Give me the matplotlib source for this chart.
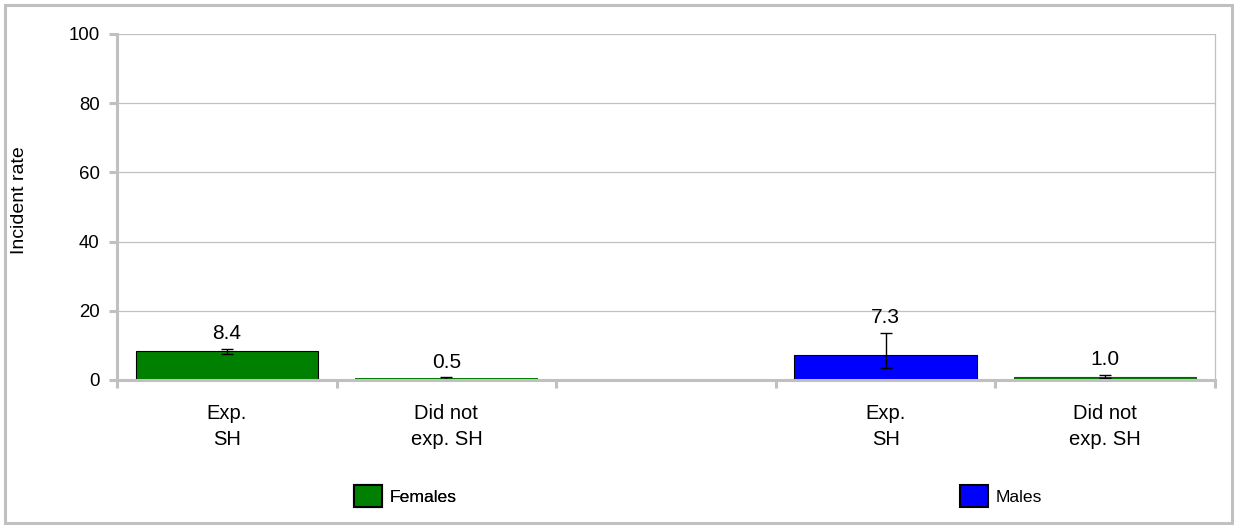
import matplotlib.pyplot as plt
from matplotlib.patches import Rectangle, Patch

plt.rcParams['font.family'] = ['Liberation Sans', 'DejaVu Sans']

# Data
slot_labels = ["Exp.\nSH", "Did not\nexp. SH", "", "Exp.\nSH", "Did not\nexp. SH"]

female_pos = [0, 1]
female_values = [8.4, 0.5]
female_err_low = [7.5, 0.3]
female_err_high = [8.9, 0.8]
female_colors = ['#008000', '#008000']
female_edges = ['black', 'none']

male_pos = [3, 4]
male_values = [7.3, 1.0]
male_err_low = [3.5, 0.6]
male_err_high = [13.7, 1.45]
male_colors = ['#0000ff', '#008000']
male_edges = ['black', '#1f4f1f']

yticks = [0, 20, 40, 60, 80, 100]

W, H = 1234, 525
fig = plt.figure(figsize=(W / 100, H / 100), dpi=100, facecolor='white')
ax = fig.add_axes([117 / W, 1 - 380 / H, 1098 / W, 346 / H])

grey = '#c0c0c0'


def draw_group(pos, vals, lows, highs, colors, edges):
    ax.bar(pos, vals, width=0.83, color=colors, edgecolor=edges, linewidth=0.8, zorder=2)
    yerr = [[v - lo for v, lo in zip(vals, lows)], [hi - v for v, hi in zip(vals, highs)]]
    ax.errorbar(pos, vals, yerr=yerr, fmt='none', ecolor='black', elinewidth=1,
                capsize=4, capthick=1, zorder=3)
    for x, v, hi in zip(pos, vals, highs):
        ax.annotate(f'{v:.1f}', (x, hi), xytext=(0, 7), textcoords='offset points',
                    ha='center', va='baseline', fontsize=15, color='black', zorder=4)


draw_group(female_pos, female_values, female_err_low, female_err_high, female_colors, female_edges)
draw_group(male_pos, male_values, male_err_low, male_err_high, male_colors, male_edges)

ax.set_xlim(-0.5, 4.5)
ax.set_ylim(0, 100)
ax.set_yticks(yticks)
ax.yaxis.grid(True, color=grey, linewidth=0.9, zorder=0)
ax.set_axisbelow(True)

# slot boundaries as major ticks, labels on minor ticks
ax.set_xticks([i - 0.5 for i in range(6)])
ax.set_xticklabels([])
ax.set_xticks(range(5), minor=True)
ax.set_xticklabels(slot_labels, minor=True, fontsize=14.5, linespacing=1.5)
ax.tick_params(axis='x', which='major', length=6, width=2.2, color=grey)
ax.tick_params(axis='x', which='minor', length=0, pad=17)
ax.tick_params(axis='y', length=5.5, width=2.2, color=grey, labelsize=13.4, pad=7)

for s in ['left', 'bottom']:
    ax.spines[s].set_color(grey)
    ax.spines[s].set_linewidth(2.2)
    ax.spines[s].set_zorder(5)
ax.spines['top'].set_visible(False)
ax.spines['right'].set_color(grey)
ax.spines['right'].set_linewidth(0.9)

ax.set_ylabel('Incident rate', fontsize=14)
ax.yaxis.set_label_coords(-89 / 1098, 0.52)

# separate legend entries under each group
leg_f = fig.legend(handles=[Patch(facecolor='#008000', edgecolor='black', linewidth=1.5, label='Females')],
                   loc='center left', bbox_to_anchor=(354 / W, 1 - 496 / H), frameon=False,
                   fontsize=12.6, handlelength=1.6, handleheight=1.6, handletextpad=0.45,
                   borderpad=0, borderaxespad=0)
fig.add_artist(leg_f)
fig.legend(handles=[Patch(facecolor='#0000ff', edgecolor='black', linewidth=1.5, label='Males')],
           loc='center left', bbox_to_anchor=(960 / W, 1 - 496 / H), frameon=False,
           fontsize=12.6, handlelength=1.6, handleheight=1.6, handletextpad=0.45,
           borderpad=0, borderaxespad=0)

# outer frame
fig.patches.append(Rectangle((4.5 / W, 2.5 / H), (1231.5 - 4.5) / W, (520.5 - 2.5) / H,
                             transform=fig.transFigure, fill=False, edgecolor=grey, linewidth=2.2))

fig.savefig('out.png', dpi=100, facecolor='white')
